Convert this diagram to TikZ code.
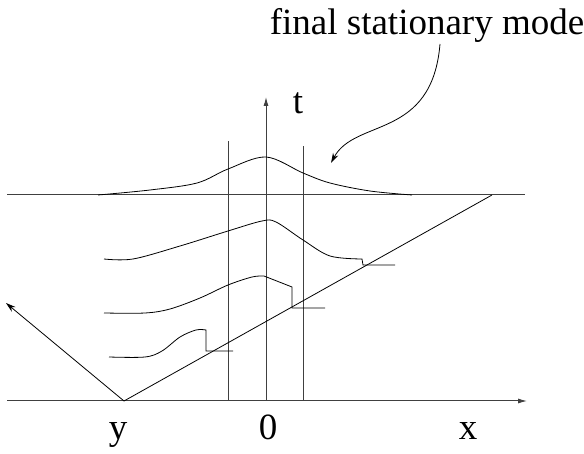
\documentclass[tikz,border=0pt]{standalone}
\usepackage{fontspec}
\setmainfont{Liberation Serif}
\usetikzlibrary{arrows.meta}
\begin{document}
\begin{tikzpicture}[x=1pt,y=-1pt,
  axisline/.style={line width=1pt,black!75},
  thinline/.style={line width=0.8pt,black},
  curveline/.style={line width=0.8pt,black},
  axisarrow/.style={-{Latex[length=9pt,width=5pt]}},
  lbl/.style={font=\fontsize{37}{40}\selectfont,anchor=base,inner sep=0pt}]
\useasboundingbox (0,0) rectangle (584,454);
% key points
\coordinate (xl) at (7,401);
\coordinate (xr) at (527,401);
\coordinate (tb) at (266,401);
\coordinate (tt) at (266,97);
\coordinate (v) at (124,401);
\coordinate (la) at (6,303);
\coordinate (hl) at (7,195);
\coordinate (hr) at (525,195);
\coordinate (de) at (492,195);
\coordinate (v1b) at (228,401);
\coordinate (v1t) at (228,141);
\coordinate (v2b) at (303,401);
\coordinate (v2t) at (303,146);
% axes and lines
\draw[axisline,axisarrow] (xl) -- (xr);
\draw[axisline,axisarrow] (tb) -- (tt);
\draw[axisline] (hl) -- (hr);
\draw[axisline] (v1b) -- (v1t);
\draw[axisline] (v2b) -- (v2t);
\draw[thinline,-{Stealth[length=10pt,width=6pt]}] (v) -- (la);
\draw[thinline] (v) -- (de);
% profiles
\draw[curveline] plot[smooth,tension=0.55] coordinates {(98,195) (150,190) (197,183) (228,169) (266,157) (303,173) (330,183) (370,191) (412,195)};
\draw[curveline] plot[smooth,tension=0.55] coordinates {(104,259) (133,259) (180,246) (228,231) (262,221) (276,222) (303,240) (330,256) (362,259)} -- (363,265) -- (395,265);
\draw[curveline] plot[smooth,tension=0.55] coordinates {(104,313) (145,313) (170,309) (200,298) (228,285) (252,277) (264,276)} -- (292,287) -- (292,308) -- (325,308);
\draw[curveline] plot[smooth,tension=0.55] coordinates {(109,357) (145,357) (162,351) (180,337) (196,330) (206,330)} -- (206,351) -- (233,351);
% labels
\node[lbl] (ty) at (118,439) {y};
\node[lbl] (t0) at (268,439) {0};
\node[lbl] (tx) at (468,439) {x};
\node[lbl] (tt2) at (298,114) {t};
\node[lbl] (tf) at (427,35) {final stationary mode};
\coordinate (fs) at (440,44);
\coordinate (fe) at (331,163);
\draw[thinline,-{Stealth[length=10pt,width=6pt]}] (fs) .. controls (432,140) and (355,118) .. (fe);
\end{tikzpicture}
\end{document}
